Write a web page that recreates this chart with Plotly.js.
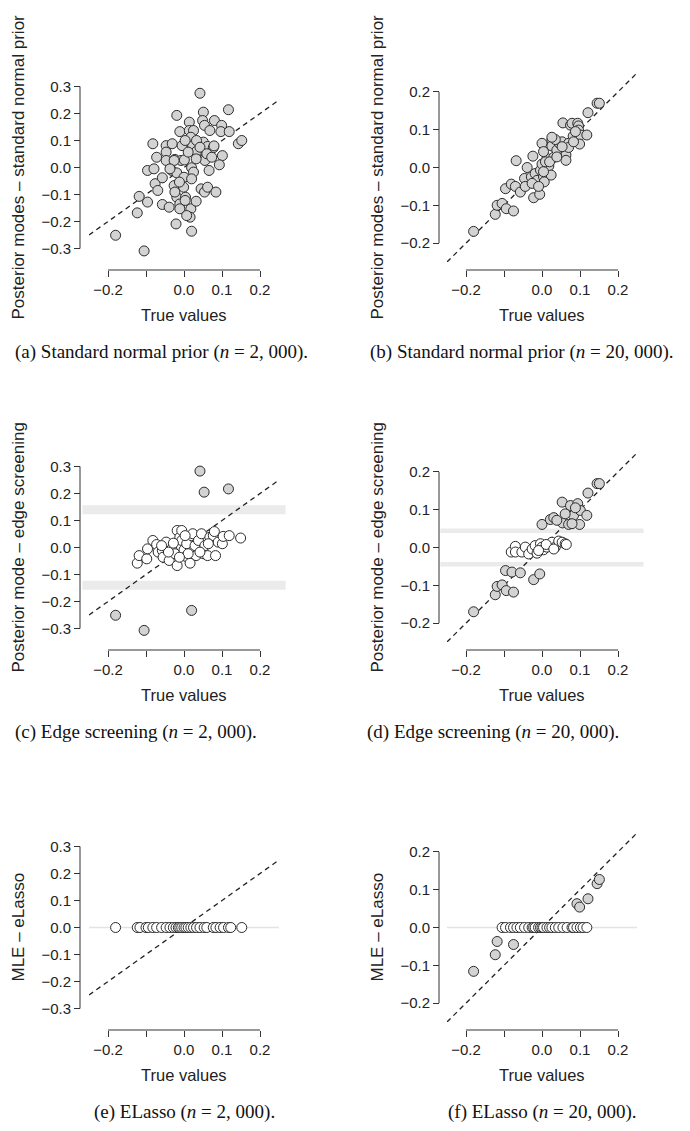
<!DOCTYPE html>
<html>
<head>
<meta charset="utf-8">
<script src="https://cdn.plot.ly/plotly-3.0.1.min.js"></script>
<style>html,body{margin:0;padding:0;background:#fff;}#chart{width:690px;height:1131px;}</style>
</head>
<body>
<div id="chart"></div>
<script>
// ---------- data ----------
// (a) Standard normal prior, n = 2,000
const trueA = [-0.180,-0.105,-0.123,-0.118,-0.096,-0.082,-0.096,-0.079,-0.072,-0.076,-0.069,-0.057,-0.057,-0.047,-0.047,-0.047,-0.039,-0.031,-0.019,-0.024,-0.032,-0.026,-0.019,-0.021,-0.011,-0.008,-0.005,-0.019,-0.011,0.001,0.000,-0.001,0.004,-0.011,0.014,0.014,0.025,0.018,0.023,0.020,0.025,0.018,0.016,0.007,0.032,0.020,0.042,0.051,0.049,0.054,0.068,0.080,0.099,0.117,0.097,0.119,0.051,0.062,0.077,0.033,0.055,0.032,0.079,0.101,0.093,0.066,0.045,0.054,0.062,0.084,0.143,0.152,0.003,0.011,-0.026,-0.037,-0.012,0.033,0.042,0.060,0.073,0.003,-0.024,0.020];
const modeA = [-0.251,-0.309,-0.168,-0.107,-0.128,0.088,-0.011,-0.005,0.038,-0.060,-0.085,-0.038,-0.137,0.081,0.057,0.026,-0.147,0.088,0.193,0.030,-0.011,-0.067,-0.110,-0.209,0.133,0.026,0.081,-0.020,-0.135,0.028,-0.036,-0.073,-0.110,-0.153,0.168,0.137,0.137,0.112,0.081,-0.001,-0.017,-0.153,-0.184,-0.178,-0.125,-0.236,0.275,0.205,0.174,0.156,0.137,0.174,0.156,0.214,0.133,0.133,0.094,0.078,0.073,0.060,0.026,0.032,0.080,0.044,0.010,-0.011,-0.079,-0.091,-0.073,-0.091,0.088,0.100,0.100,0.057,0.026,-0.005,-0.054,0.100,0.075,0.051,0.038,-0.122,-0.091,-0.042];

// (b) Standard normal prior, n = 20,000
const trueB = [-0.180,-0.123,-0.118,-0.105,-0.094,-0.075,-0.096,-0.081,-0.070,-0.057,-0.068,-0.039,-0.046,-0.044,-0.024,-0.022,-0.006,-0.028,-0.018,-0.013,-0.004,0.000,0.004,0.006,0.013,0.000,0.004,0.026,0.026,0.018,0.024,0.031,0.039,0.046,0.053,0.055,0.075,0.079,0.094,0.096,0.082,0.096,0.101,0.118,0.099,0.070,0.063,0.063,0.070,0.121,0.145,0.151,0.035,0.026,0.083,0.088,-0.026,-0.009,0.004,0.009,0.020,0.039,0.053];
const modeB = [-0.169,-0.124,-0.100,-0.095,-0.109,-0.115,-0.056,-0.044,-0.050,-0.065,0.018,0.000,-0.029,-0.050,0.030,-0.080,-0.071,-0.025,-0.016,-0.034,-0.007,0.009,-0.025,-0.038,0.024,0.064,0.042,0.073,0.057,0.004,-0.020,0.027,0.046,0.064,0.068,0.118,0.112,0.117,0.117,0.110,0.083,0.099,0.086,0.086,0.062,0.064,0.033,0.019,0.053,0.145,0.170,0.170,0.074,0.080,0.068,0.095,-0.042,-0.050,-0.011,0.015,0.015,0.028,0.055];

// (c) Edge screening, n = 2,000
const trueCsel = [-0.180,-0.105,0.020,0.042,0.053,0.117];
const edgeCsel = [-0.251,-0.307,-0.233,0.283,0.205,0.217];
const trueCscr = [-0.123,-0.118,-0.098,-0.096,-0.082,-0.072,-0.068,-0.057,-0.055,-0.047,-0.039,-0.032,-0.024,-0.018,-0.018,-0.011,-0.006,0.000,0.005,0.007,0.016,0.020,0.023,0.029,0.032,0.038,0.046,0.051,0.055,0.062,0.068,0.077,0.080,0.083,0.090,0.101,0.103,0.119,0.149,-0.028,-0.006,0.011,-0.012,0.042,0.003,0.064,-0.041,-0.059];
const edgeCscr = [-0.058,-0.030,-0.042,-0.005,0.026,0.011,-0.017,-0.011,-0.036,0.020,-0.048,-0.005,-0.023,-0.067,0.063,0.038,0.026,-0.009,-0.033,0.014,-0.058,0.044,0.051,0.007,-0.030,0.026,0.051,-0.023,0.007,-0.030,0.038,0.044,0.059,-0.030,0.020,0.014,0.041,0.044,0.035,0.016,0.063,-0.023,-0.036,-0.017,0.044,0.014,-0.017,0.007];
const thresholdC = 0.14;

// (d) Edge screening, n = 20,000
const trueDsel = [-0.180,-0.123,-0.118,-0.105,-0.094,-0.075,-0.096,-0.079,-0.057,-0.022,-0.006,0.000,0.022,0.031,0.054,0.053,0.075,0.083,0.094,0.101,0.118,0.099,0.070,0.079,0.121,0.145,0.151,0.039,0.088,0.061];
const edgeDsel = [-0.170,-0.125,-0.103,-0.099,-0.114,-0.118,-0.061,-0.065,-0.067,-0.085,-0.070,0.061,0.074,0.079,0.065,0.120,0.111,0.085,0.116,0.098,0.085,0.061,0.061,0.063,0.144,0.169,0.169,0.072,0.105,0.089];
const trueDscr = [-0.081,-0.070,-0.070,-0.053,-0.044,-0.035,-0.026,-0.018,-0.013,-0.004,0.000,0.004,0.013,0.022,0.026,0.035,0.044,0.053,0.061,0.064,-0.009,0.011,0.031];
const edgeDscr = [-0.012,0.003,-0.012,-0.012,0.001,-0.017,-0.004,0.005,-0.015,0.010,0.001,-0.006,0.001,0.010,0.014,0.001,0.017,0.014,0.010,0.008,-0.008,0.008,-0.004];
const thresholdD = 0.044;

// (e) ELasso, n = 2,000 (all estimates zero)
const trueE = [-0.180,-0.123,-0.116,-0.100,-0.094,-0.082,-0.072,-0.059,-0.047,-0.037,-0.028,-0.021,-0.015,-0.011,-0.006,0.000,0.005,0.011,0.018,0.025,0.033,0.042,0.053,0.060,0.077,0.084,0.095,0.104,0.117,0.123,0.152];
const elassoE = [0,0,0,0,0,0,0,0,0,0,0,0,0,0,0,0,0,0,0,0,0,0,0,0,0,0,0,0,0,0,0];

// (f) ELasso, n = 20,000
const trueFsel = [-0.180,-0.123,-0.118,-0.075,0.092,0.099,0.121,0.145,0.151];
const elassoFsel = [-0.116,-0.072,-0.037,-0.045,0.063,0.054,0.076,0.116,0.127];
const trueFzero = [-0.105,-0.096,-0.083,-0.075,-0.066,-0.057,-0.046,-0.035,-0.026,-0.022,-0.018,-0.009,-0.004,0.000,0.004,0.013,0.020,0.026,0.035,0.044,0.055,0.066,0.079,0.083,0.092,0.101,0.108,0.118];
const elassoFzero = [0,0,0,0,0,0,0,0,0,0,0,0,0,0,0,0,0,0,0,0,0,0,0,0,0,0,0,0];

// axes, labels
const identityLine = [-0.25, 0.25];
const xTickVals = [-0.2,-0.1,0.0,0.1,0.2];
const xTickText = ["\u22120.2","","0.0","0.1","0.2"];
const yTickValsN2k = [-0.3,-0.2,-0.1,0.0,0.1,0.2,0.3];
const yTickTextN2k = ["\u22120.3","\u22120.2","\u22120.1","0.0","0.1","0.2","0.3"];
const yTickValsN20k = [-0.2,-0.1,0.0,0.1,0.2];
const yTickTextN20k = ["\u22120.2","\u22120.1","0.0","0.1","0.2"];
const xTitle = "True values";
const yTitles = ["Posterior modes \u2013 standard normal prior","Posterior modes \u2013 standard normal prior",
                 "Posterior mode \u2013 edge screening","Posterior mode \u2013 edge screening",
                 "MLE \u2013 eLasso","MLE \u2013 eLasso"];
const captions = ["(a) Standard normal prior (<i>n</i> = 2, 000).","(b) Standard normal prior (<i>n</i> = 20, 000).",
                  "(c) Edge screening (<i>n</i> = 2, 000).","(d) Edge screening (<i>n</i> = 20, 000).",
                  "(e) ELasso (<i>n</i> = 2, 000).","(f) ELasso (<i>n</i> = 20, 000)."];

// ---------- layout geometry (pixels) ----------
const W = 690, H = 1131;
const px = v => v / W;
const py = v => 1 - v / H;
const colX = [[89,279],[447,637]];        // plot region x (px)
const rowY = [[73,262],[453,642],[833,1022]]; // plot region y (px, top->bottom)
const yAxisLineX = [80, 439];
const xAxisLineY = [270, 650, 1030];
const yTitleX = [18, 377];
const xTitleY = [315, 695, 1075];
const captionY = [352, 732, 1112];
const captionX = [161, 522, 136, 493, 184, 542];

const FONT = "Liberation Sans, Arial, sans-serif";
const SERIF = "Liberation Serif, Times New Roman, serif";
const INK = "#222";
const AXC = "#333";

const traces = [];
const layout = {
  width: W, height: H, margin: {l:0,r:0,t:0,b:0},
  paper_bgcolor: "#fff", plot_bgcolor: "rgba(0,0,0,0)",
  showlegend: false, shapes: [], annotations: [],
  font: {family: FONT, color: INK, size: 15}
};

function grayMarker() { return {size: 10, color: "#d3d3d3", line: {color: "#2b2b2b", width: 1}}; }
function openMarker() { return {size: 10, color: "#ffffff", line: {color: "#2b2b2b", width: 1}}; }

const panels = [
  {sets: [[trueA, modeA, "g"]]},
  {sets: [[trueB, modeB, "g"]]},
  {sets: [[trueCsel, edgeCsel, "g"], [trueCscr, edgeCscr, "o"]], band: thresholdC, bandW: 9},
  {sets: [[trueDsel, edgeDsel, "g"], [trueDscr, edgeDscr, "o"]], band: thresholdD, bandW: 4.5},
  {sets: [[trueE, elassoE, "o"]], zero: true},
  {sets: [[trueFsel, elassoFsel, "g"], [trueFzero, elassoFzero, "o"]], zero: true}
];

panels.forEach((p, i) => {
  const k = i + 1;
  const col = i % 2, row = Math.floor(i / 2);
  const xa = k === 1 ? "x" : "x" + k;
  const ya = k === 1 ? "y" : "y" + k;
  const yVals = col === 0 ? yTickValsN2k : yTickValsN20k;
  const yText = col === 0 ? yTickTextN2k : yTickTextN20k;
  const yHalf = col === 0 ? 0.35 : 0.25;

  layout["xaxis" + (k === 1 ? "" : k)] = {
    domain: [px(colX[col][0]), px(colX[col][1])],
    range: [identityLine[0], identityLine[1]],
    anchor: "free", position: py(xAxisLineY[row]),
    showgrid: false, zeroline: false, showline: false,
    tickmode: "array", tickvals: xTickVals, ticktext: xTickText,
    ticks: "outside", ticklen: 6, tickwidth: 1, tickcolor: AXC,
    tickfont: {family: FONT, size: 15, color: INK}, fixedrange: true
  };
  layout["yaxis" + (k === 1 ? "" : k)] = {
    domain: [py(rowY[row][1]), py(rowY[row][0])],
    range: [-yHalf, yHalf],
    anchor: "free", position: px(yAxisLineX[col]),
    showgrid: false, zeroline: false, showline: false,
    tickmode: "array", tickvals: yVals, ticktext: yText,
    ticks: "outside", ticklen: 6, tickwidth: 1, tickcolor: AXC,
    tickfont: {family: FONT, size: 15, color: INK}, fixedrange: true
  };

  // R-style axis lines spanning first..last tick
  layout.shapes.push({type: "line", xref: "paper", yref: ya, x0: px(yAxisLineX[col]), x1: px(yAxisLineX[col]),
    y0: yVals[0], y1: yVals[yVals.length - 1], line: {color: AXC, width: 1}});
  layout.shapes.push({type: "line", xref: xa, yref: "paper", x0: xTickVals[0], x1: xTickVals[xTickVals.length - 1],
    y0: py(xAxisLineY[row]), y1: py(xAxisLineY[row]), line: {color: AXC, width: 1}});

  // screening bands / zero line
  if (p.band !== undefined) {
    [p.band, -p.band].forEach(b => layout.shapes.push({type: "line", layer: "below", xref: xa + " domain", yref: ya,
      x0: -0.035, x1: 1.035, y0: b, y1: b, line: {color: "#ebebeb", width: p.bandW}}));
  }
  if (p.zero) {
    layout.shapes.push({type: "line", layer: "below", xref: xa + " domain", yref: ya,
      x0: 0, x1: 1, y0: 0, y1: 0, line: {color: "#e3e3e3", width: 1.5}});
  }

  // identity line
  traces.push({type: "scatter", mode: "lines", x: identityLine, y: identityLine, xaxis: xa, yaxis: ya,
    line: {color: "#222", width: 1.3, dash: "5px,4px"}, hoverinfo: "skip", cliponaxis: false});

  // points
  p.sets.forEach(s => {
    traces.push({type: "scatter", mode: "markers", x: s[0], y: s[1], xaxis: xa, yaxis: ya,
      marker: s[2] === "g" ? grayMarker() : openMarker(), cliponaxis: false});
  });

  // axis titles
  const cx = (colX[col][0] + colX[col][1]) / 2;
  const cy = (rowY[row][0] + rowY[row][1]) / 2;
  layout.annotations.push({xref: "paper", yref: "paper", x: px(cx), y: py(xTitleY[row]), text: xTitle,
    showarrow: false, xanchor: "center", yanchor: "middle", font: {family: FONT, size: 16.5, color: INK}});
  layout.annotations.push({xref: "paper", yref: "paper", x: px(yTitleX[col]), y: py(cy), text: yTitles[i],
    textangle: -90, showarrow: false, xanchor: "center", yanchor: "middle", font: {family: FONT, size: 17, color: INK}});
  layout.annotations.push({xref: "paper", yref: "paper", x: px(captionX[i]), y: py(captionY[row]), text: captions[i],
    showarrow: false, xanchor: "center", yanchor: "middle", font: {family: SERIF, size: 19, color: "#111"}});
});

Plotly.newPlot("chart", traces, layout, {displayModeBar: false, staticPlot: true});
</script>
</body>
</html>
